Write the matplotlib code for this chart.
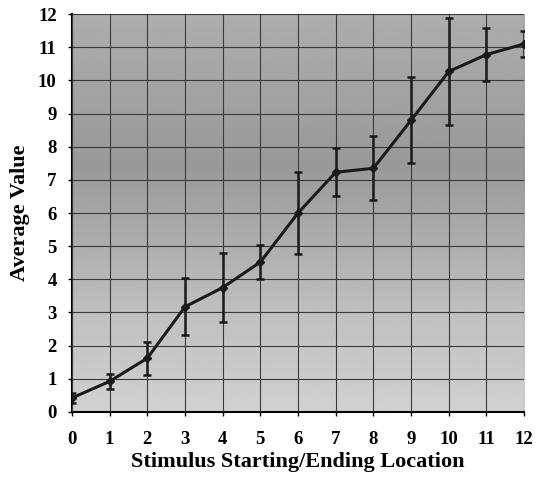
import numpy as np
import matplotlib.pyplot as plt

# stimulus location vs average value
locations = [0, 1, 2, 3, 4, 5, 6, 7, 8, 9, 10, 11, 12]
avg_value = [0.42, 0.92, 1.62, 3.17, 3.75, 4.52, 6.0, 7.23, 7.35, 8.8, 10.27, 10.78, 11.1]
err = [0.15, 0.22, 0.5, 0.86, 1.03, 0.52, 1.25, 0.72, 0.97, 1.3, 1.6, 0.8, 0.4]

xticks = list(range(0, 13))
yticks = list(range(0, 13))

plt.rcParams['font.family'] = ['Liberation Serif', 'DejaVu Serif']
plt.rcParams['font.weight'] = 'bold'

fig = plt.figure(figsize=(5.37, 4.88), dpi=100)
ax = fig.add_axes([0.134, 0.156, 0.842, 0.815])

# grey plot-area gradient: darkest around 7-8, lighter toward the bottom
yy = np.linspace(0, 12, 200)
shade = np.interp(yy, [0, 3, 7.5, 12], [0.82, 0.75, 0.6, 0.68])
ax.imshow(shade[:, None], extent=[0, 12, 0, 12], origin='lower', aspect='auto',
          cmap='gray', vmin=0, vmax=1, zorder=0)

ax.grid(True, color='#3a3a3a', lw=0.8, zorder=1)
ax.set_axisbelow(False)

ax.errorbar(locations, avg_value, yerr=err, color='#1a1a1a', lw=2.2,
            marker='D', ms=4, elinewidth=1.8, capsize=3, capthick=1.8, zorder=3)

ax.set_xlim(0, 12)
ax.set_ylim(0, 12)
ax.set_xticks(xticks)
ax.set_yticks(yticks)
ax.tick_params(labelsize=13.5, length=3, width=1, pad=11)
ax.tick_params(axis='y', pad=8)

for s in ['top', 'right']:
    ax.spines[s].set_visible(False)
for s in ['left', 'bottom']:
    ax.spines[s].set_linewidth(1.5)

ax.set_xlabel('Stimulus Starting/Ending Location', fontsize=16, fontweight='bold', labelpad=3)
ax.set_ylabel('Average Value', fontsize=16, fontweight='bold', labelpad=6)

fig.savefig('out.png', dpi=100)
